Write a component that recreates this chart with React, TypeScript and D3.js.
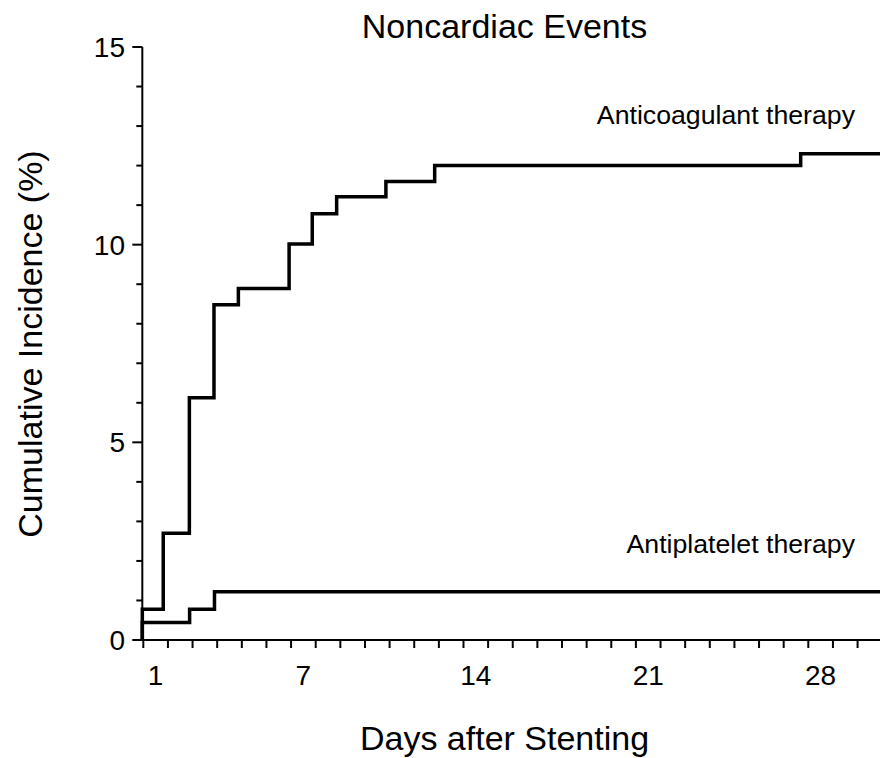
import * as d3 from 'd3';

// curvas de incidencia acumulada (degraus)
const startDay = 0.46;
const anticoagDays = [1.31, 2.37, 3.37, 4.36, 6.42, 7.36, 8.35, 10.35, 12.33, 27.19];
const anticoagValues = [2.7, 6.13, 8.48, 8.89, 10.02, 10.78, 11.21, 11.6, 12.0, 12.3];
const anticoagStart = 0.78;
const antiplateletDays = [2.38, 3.39];
const antiplateletValues = [0.78, 1.22];
const antiplateletStart = 0.44;
const endDay = 30.6;

const xTickLabels = [1, 7, 14, 21, 28];
const yTickLabels = [0, 5, 10, 15];

const title = 'Noncardiac Events';
const xTitle = 'Days after Stenting';
const yTitle = 'Cumulative Incidence (%)';
const seriesNames = ['Anticoagulant therapy', 'Antiplatelet therapy'];

const W = 880;
const H = 758;
const font = '"Liberation Sans", Arial, Helvetica, sans-serif';

const buildSteps = (start: number, days: number[], values: number[]) => {
  const pts: [number, number][] = [[startDay, 0], [startDay, start]];
  days.forEach((d, i) => pts.push([d, values[i]]));
  pts.push([endDay, values[values.length - 1]]);
  return pts;
};

const App = () => {
  const x = d3.scaleLinear().domain([0.5, 30.5]).range([143.3, 882.2]);
  const y = d3.scaleLinear().domain([0, 15]).range([640, 47]);

  const line = d3
    .line<[number, number]>()
    .x((d) => x(d[0]))
    .y((d) => y(d[1]))
    .curve(d3.curveStepAfter);

  const acPath = line(buildSteps(anticoagStart, anticoagDays, anticoagValues)) || '';
  const apPath = line(buildSteps(antiplateletStart, antiplateletDays, antiplateletValues)) || '';

  // ticks do eixo x nos meios-dias
  const xMinor = d3.range(0.5, 30, 1);
  const yMinor = d3.range(0, 16, 1);

  const axisX0 = x(startDay);

  return (
    <svg
      width={W}
      height={H}
      style={{ position: 'absolute', left: 0, top: 0, background: '#fff', overflow: 'hidden' }}
      fontFamily={font}
    >
      <text x={504.5} y={38} fontSize={34} textAnchor="middle" fill="#000">
        {title}
      </text>

      {/* eixo y */}
      <line x1={axisX0} x2={axisX0} y1={y(15)} y2={y(0) + 1} stroke="#000" strokeWidth={2} />
      {yMinor.map((v) => (
        <line
          key={'ym' + v}
          x1={axisX0 - (v % 5 === 0 ? 10 : 6)}
          x2={axisX0}
          y1={y(v)}
          y2={y(v)}
          stroke="#000"
          strokeWidth={2}
        />
      ))}
      {yTickLabels.map((v) => (
        <text key={'yl' + v} x={125} y={y(v)} dy="0.36em" fontSize={28} textAnchor="end" fill="#000">
          {v}
        </text>
      ))}

      {/* eixo x */}
      <line x1={axisX0 - 1} x2={W} y1={y(0)} y2={y(0)} stroke="#000" strokeWidth={2} />
      {xMinor.map((d) => (
        <line key={'xm' + d} x1={x(d)} x2={x(d)} y1={y(0)} y2={y(0) + 8} stroke="#000" strokeWidth={2} />
      ))}
      {xTickLabels.map((d) => (
        <text key={'xl' + d} x={x(d)} y={685} fontSize={28} textAnchor="middle" fill="#000">
          {d}
        </text>
      ))}

      <text x={504.5} y={750} fontSize={34} textAnchor="middle" fill="#000">
        {xTitle}
      </text>
      <text transform="translate(42,344) rotate(-90)" fontSize={34} textAnchor="middle" fill="#000">
        {yTitle}
      </text>

      <path d={acPath} fill="none" stroke="#000" strokeWidth={3.5} />
      <path d={apPath} fill="none" stroke="#000" strokeWidth={3.5} />

      <text x={855} y={124} fontSize={26.7} textAnchor="end" fill="#000">
        {seriesNames[0]}
      </text>
      <text x={855} y={553} fontSize={26.7} textAnchor="end" fill="#000">
        {seriesNames[1]}
      </text>
    </svg>
  );
};

export default App;
